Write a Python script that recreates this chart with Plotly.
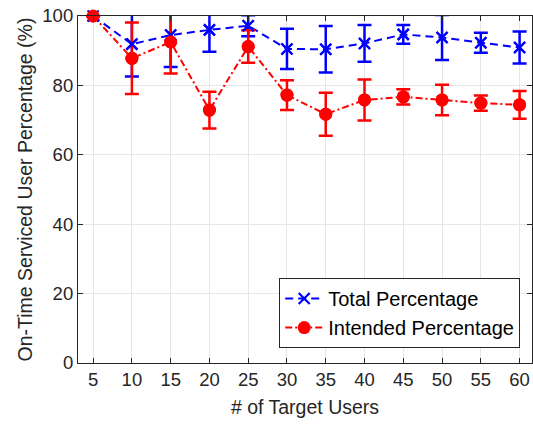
import plotly.graph_objects as go

# Number of target users
users = [5, 10, 15, 20, 25, 30, 35, 40, 45, 50, 55, 60]

# Mean on-time serviced percentages and their spreads
total_pct = [100, 91.9, 94.5, 96.0, 97.2, 90.5, 90.4, 92.1, 94.7, 93.8, 92.3, 90.9]
total_err = [0, 9.3, 9.2, 6.3, 3.0, 5.8, 6.7, 5.3, 2.7, 6.5, 2.9, 4.6]

intended_pct = [100, 87.8, 92.5, 72.9, 91.2, 77.2, 71.7, 75.8, 76.7, 75.8, 74.9, 74.4]
intended_err = [0, 10.3, 9.1, 5.3, 4.7, 4.3, 6.2, 5.9, 2.2, 4.4, 2.2, 4.0]

x_ticks = [5, 10, 15, 20, 25, 30, 35, 40, 45, 50, 55, 60]
y_ticks = [0, 20, 40, 60, 80, 100]

BLUE = "#0000ff"
RED = "#ff0000"
FONT = "Liberation Sans, Arial, sans-serif"

fig = go.Figure()

# Lines, error bars and legend entries (clipped to the axes)
fig.add_trace(go.Scatter(
    x=users, y=total_pct, name="Total Percentage",
    mode="lines+markers",
    line=dict(color=BLUE, width=2, dash="8px,5px"),
    marker=dict(symbol="x-thin", size=11, line=dict(color=BLUE, width=2.2), color=BLUE),
    error_y=dict(type="data", array=total_err, color=BLUE, thickness=2.5, width=7),
    cliponaxis=True,
))
fig.add_trace(go.Scatter(
    x=users, y=intended_pct, name="Intended Percentage",
    mode="lines+markers",
    line=dict(color=RED, width=2, dash="7px,3px,2px,3px"),
    marker=dict(symbol="circle", size=13, color=RED),
    error_y=dict(type="data", array=intended_err, color=RED, thickness=2.5, width=7),
    cliponaxis=True,
))

# Markers drawn again unclipped so the ones on the top border stay whole
fig.add_trace(go.Scatter(
    x=users, y=total_pct, mode="markers", showlegend=False, hoverinfo="skip",
    marker=dict(symbol="x-thin", size=11, line=dict(color=BLUE, width=2.2), color=BLUE),
    cliponaxis=False,
))
fig.add_trace(go.Scatter(
    x=users, y=intended_pct, mode="markers", showlegend=False, hoverinfo="skip",
    marker=dict(symbol="circle", size=13, color=RED),
    cliponaxis=False,
))

axis_common = dict(
    showline=True, linecolor="#262626", linewidth=1.2, mirror="ticks",
    ticks="inside", ticklen=5, tickcolor="#262626",
    showgrid=True, gridcolor="#e6e6e6", gridwidth=1,
    zeroline=False,
    tickfont=dict(family=FONT, size=18.5, color="#262626"),
)

fig.update_layout(
    width=533, height=428,
    margin=dict(l=78, r=1, t=16, b=65),
    paper_bgcolor="white", plot_bgcolor="white",
    font=dict(family=FONT, color="#262626"),
    xaxis=dict(
        range=[3.05, 61.6], tickvals=x_ticks,
        title=dict(text="# of Target Users", font=dict(family=FONT, size=19.5), standoff=11),
        **axis_common,
    ),
    yaxis=dict(
        range=[0, 100], tickvals=y_ticks,
        title=dict(text="On-Time Serviced User Percentage (%)", font=dict(family=FONT, size=19.5), standoff=4),
        **axis_common,
    ),
    legend=dict(
        x=0.974, y=0.043, xanchor="right", yanchor="bottom",
        bgcolor="white", bordercolor="#262626", borderwidth=1,
        font=dict(family=FONT, size=20, color="#000000"),
        itemwidth=38, tracegroupgap=0,
    ),
    showlegend=True,
)

fig.write_html("out.html")
